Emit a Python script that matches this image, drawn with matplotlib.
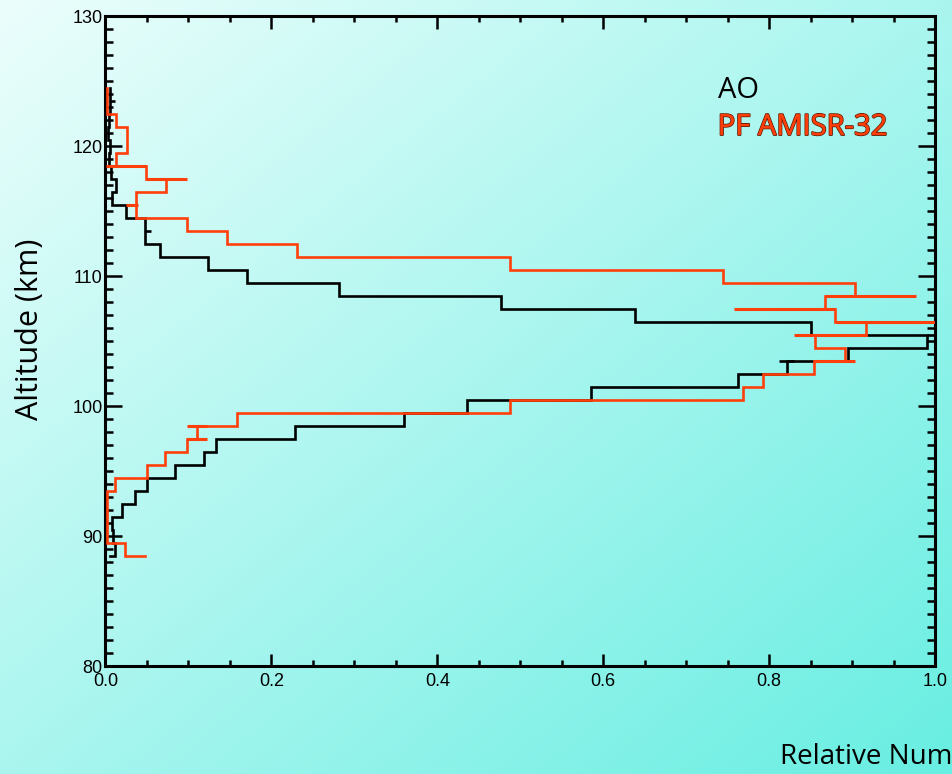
import numpy as np
import matplotlib
matplotlib.use("Agg")
from matplotlib import pyplot as plt
from matplotlib.ticker import MultipleLocator
import matplotlib.patheffects as pe

# altitude levels (km) of the horizontal step segments
levels = np.arange(88.5, 125.0, 1.0)

# x positions (relative number) of the step corners, one more than levels
ao_steps = [0.006, 0.012, 0.009, 0.0075, 0.020, 0.035, 0.050, 0.084, 0.119, 0.133,
            0.229, 0.360, 0.436, 0.585, 0.762, 0.821, 0.895, 0.990, 0.851, 0.638,
            0.477, 0.281, 0.170, 0.123, 0.066, 0.0476, 0.0476, 0.0247, 0.0075, 0.0123,
            0.0066, 0.004, 0.005, 0.003, 0.004, 0.005, 0.006, 0.006]
pf_steps = [0.048, 0.023, 0.002, 0.002, 0.002, 0.002, 0.012, 0.050, 0.072, 0.098,
            0.110, 0.158, 0.4875, 0.769, 0.793, 0.854, 0.8915, 0.855, 0.9165, 0.879,
            0.867, 0.9036, 0.744, 0.4875, 0.231, 0.146, 0.098, 0.0364, 0.0364, 0.073,
            0.0485, 0.0123, 0.0255, 0.0255, 0.0123, 0.002, 0.002, 0.002]

# error bars: altitude, low, high
ao_err_alt = [103.5, 105.5, 113.5, 123.5]
ao_err_lo = [0.812, 0.990, 0.0476, 0.004]
ao_err_hi = [0.830, 1.030, 0.055, 0.012]
pf_err_alt = [97.5, 98.5, 103.5, 105.5, 106.5, 107.5, 108.5, 115.5, 117.5, 118.5]
pf_err_lo = [0.098, 0.098, 0.854, 0.830, 0.880, 0.758, 0.867, 0.0247, 0.0485, 0.001]
pf_err_hi = [0.122, 0.122, 0.904, 0.918, 1.030, 0.879, 0.977, 0.0388, 0.098, 0.0485]

ORANGE = '#ff3f0a'
TXT = ['Open Sans', 'DejaVu Sans']


def step_xy(lev, steps):
    x = np.repeat(np.asarray(steps), 2)[1:-1]
    y = np.repeat(np.asarray(lev), 2)
    return x, y


fig = plt.figure(figsize=(9.52, 7.74), dpi=100)

# background gradient
bg = fig.add_axes([0, 0, 1, 1], zorder=0)
gx, gy = np.meshgrid(np.linspace(0, 1, 400), np.linspace(0, 1, 400))
t = (gx + gy) / 2
c0 = np.array([236, 254, 252]) / 255
c1 = np.array([104, 238, 226]) / 255
img = c0[None, None, :] * (1 - t[..., None]) + c1[None, None, :] * t[..., None]
bg.imshow(img, aspect='auto', extent=[0, 1, 0, 1], origin='upper')
bg.axis('off')

ax = fig.add_axes([0.1108, 0.1391, 0.8714, 0.8398], zorder=1)
ax.patch.set_alpha(0)

x, y = step_xy(levels, ao_steps)
ax.plot(x, y, color='black', lw=1.9, zorder=3, solid_joinstyle='miter')
ax.hlines(ao_err_alt, ao_err_lo, ao_err_hi, color='black', lw=1.9, zorder=3)

x, y = step_xy(levels, pf_steps)
ax.plot(x, y, color=ORANGE, lw=1.9, zorder=4, solid_joinstyle='miter')
ax.hlines(pf_err_alt, pf_err_lo, pf_err_hi, color=ORANGE, lw=2.2, zorder=4)

ax.set_xlim(0, 1)
ax.set_ylim(80, 130)
ax.xaxis.set_major_locator(MultipleLocator(0.2))
ax.xaxis.set_minor_locator(MultipleLocator(0.05))
ax.yaxis.set_major_locator(MultipleLocator(10))
ax.yaxis.set_minor_locator(MultipleLocator(1))
ax.xaxis.set_major_formatter(lambda v, p: f'{v:.1f}')
ax.yaxis.set_major_formatter(lambda v, p: f'{v:.0f}')

for s in ax.spines.values():
    s.set_linewidth(2.2)
ax.tick_params(which='both', direction='in', top=True, right=True, width=1.8,
               labelsize=13)
ax.tick_params(axis='x', which='major', length=9, pad=4.5)
ax.tick_params(axis='x', which='minor', length=4.5)
ax.tick_params(axis='y', which='major', length=12, pad=2)
ax.tick_params(axis='y', which='minor', length=6)
for lab in ax.get_xticklabels() + ax.get_yticklabels():
    lab.set_family(['Liberation Sans', 'DejaVu Sans'])

fig.text(0.032, 0.575, 'Altitude (km)', rotation=90, ha='center', va='center',
         fontsize=22, family=TXT)
fig.text(0.819, 0.022, 'Relative Number', ha='left', va='center',
         fontsize=20, family=TXT)

ax.text(0.738, 0.886, 'AO', transform=ax.transAxes, fontsize=21, color='black',
        ha='left', va='center', family=TXT)
ax.text(0.738, 0.829, 'PF AMISR-32', transform=ax.transAxes, fontsize=21,
        color=ORANGE, ha='left', va='center', family=TXT,
        path_effects=[pe.withStroke(linewidth=1.3, foreground='#6a1a00'), pe.Normal()])

fig.savefig('out.png', dpi=100)
